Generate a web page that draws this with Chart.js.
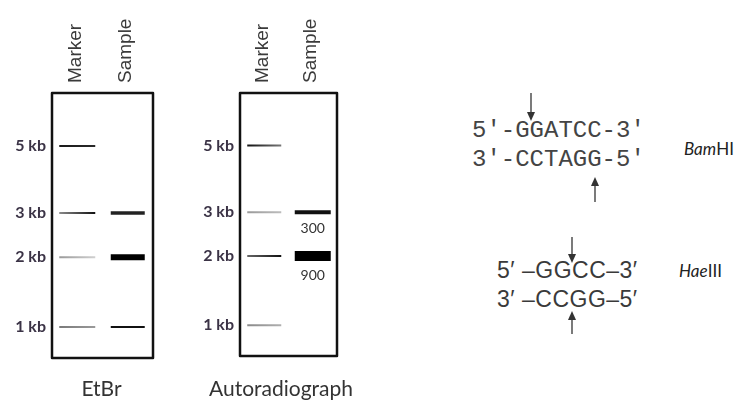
<!DOCTYPE html>
<html><head><meta charset="utf-8">
<script src="https://cdn.jsdelivr.net/npm/chart.js@4.4.1/dist/chart.umd.min.js"></script>
<style>
html,body{margin:0;padding:0;background:#fff;width:735px;height:401px;overflow:hidden;position:relative;}
canvas{position:absolute;top:0;}
.t{position:absolute;white-space:nowrap;color:#333;}
.seq{font-family:"Liberation Mono","DejaVu Sans Mono",monospace;font-size:24px;line-height:28px;color:#444;}
.seq2{font-family:"Liberation Sans",Arial,sans-serif;font-size:23px;line-height:28px;color:#3a3a3a;letter-spacing:0.5px;}
.enz{font-family:Lato,"Open Sans",sans-serif;font-size:17px;line-height:20px;color:#222;}
.cap{font-family:Lato,"Open Sans",sans-serif;font-size:21px;line-height:24px;color:#333;text-align:center;}
svg{position:absolute;left:0;top:0;}
</style></head><body>
<canvas id="g1" width="180" height="401" style="left:0"></canvas>
<canvas id="g2" width="180" height="401" style="left:185px"></canvas>

<div class="t cap" style="left:51px;top:376px;width:101px;">EtBr</div>
<div class="t cap" style="left:200px;top:376px;width:162px;">Autoradiograph</div>

<div class="t seq" style="left:472px;top:117px;">5′-GGATCC-3′</div>
<div class="t seq" style="left:472px;top:146px;">3′-CCTAGG-5′</div>
<div class="t enz" style="left:684px;top:139px;"><i>Bam</i>HI</div>

<div class="t seq2" style="left:497px;top:256px;">5′ –GGCC–3′</div>
<div class="t seq2" style="left:497px;top:285px;">3′ –CCGG–5′</div>
<div class="t enz" style="left:679px;top:261px;"><i>Hae</i>III</div>

<svg width="735" height="401" viewBox="0 0 735 401">
  <g stroke="#333" stroke-width="1.3" fill="#333">
    <line x1="531" y1="93" x2="531" y2="114"/><polygon points="527,112 535,112 531,121" stroke="none"/>
    <line x1="595" y1="184" x2="595" y2="202"/><polygon points="591,186 599,186 595,177" stroke="none"/>
    <line x1="572" y1="237" x2="572" y2="256"/><polygon points="568,254 576,254 572,263" stroke="none"/>
    <line x1="572" y1="318" x2="572" y2="334"/><polygon points="568,320 576,320 572,311" stroke="none"/>
  </g>
</svg>

<script>
// ---- data ----
const lanes = ["Marker", "Sample"];
const markerSizes = ["5 kb", "3 kb", "2 kb", "1 kb"];
const markerMigration = [20, 45.3, 62, 88.3];           // % of gel length from the well
const etbrSampleSizes = ["3 kb", "2 kb", "1 kb"];
const autoradSampleSizes = ["3 kb", "2 kb"];
const autoradSampleLabels = ["300", "900"];

// ---- band styles (appearance only) ----
const etbrMarkerStyle = [
  {r:18, w:2,   c:['#1a1a1a','#2a2a2a']},
  {r:18, w:2,   c:['#8a8a8a','#111111']},
  {r:18, w:2,   c:['#9a9a9a','#d0d0d0']},
  {r:18, w:2,   c:['#7a7a7a','#9a9a9a']}
];
const etbrSampleStyle = [
  {r:17, w:3.5, c:['#222','#222']},
  {r:17, w:6,   c:['#000','#000']},
  {r:17, w:2,   c:['#111','#111']}
];
const autoMarkerStyle = [
  {r:17, w:2,   c:['#111','#777']},
  {r:17, w:2,   c:['#9a9a9a','#bcbcbc']},
  {r:17, w:2,   c:['#666','#111']},
  {r:17, w:2,   c:['#8a8a8a','#b0b0b0']}
];
const autoSampleStyle = [
  {r:18, w:4,   c:['#111','#111']},
  {r:18, w:10,  c:['#000','#000']}
];

function grad(ctx, st) {
  const chart = ctx.chart;
  const xs = chart.scales && chart.scales.x;
  if (!xs || !ctx.parsed) return st.c[0];
  const cx = xs.getPixelForValue(ctx.parsed.x);
  if (!isFinite(cx)) return st.c[0];
  const g = chart.ctx.createLinearGradient(cx - st.r, 0, cx + st.r, 0);
  g.addColorStop(0, st.c[0]); g.addColorStop(1, st.c[1]);
  return g;
}

function bandDataset(lane, sizes, styles) {
  return {
    data: sizes.map(s => ({x: lane, y: markerMigration[markerSizes.indexOf(s)]})),
    showLine: false,
    pointStyle: 'line',
    pointRadius: ctx => styles[ctx.dataIndex].r,
    pointBorderWidth: ctx => styles[ctx.dataIndex].w,
    pointBorderColor: ctx => grad(ctx, styles[ctx.dataIndex]),
    pointBackgroundColor: 'rgba(0,0,0,0)'
  };
}

const boxPlugin = {
  id: 'gelBox',
  afterDraw(chart) {
    const a = chart.chartArea, c = chart.ctx;
    c.save();
    c.lineWidth = 2.5; c.strokeStyle = '#111'; c.lineJoin = 'round';
    c.strokeRect(a.left, a.top, a.right - a.left, a.bottom - a.top);
    c.restore();
  }
};

const bandLabelPlugin = {
  id: 'bandLabels',
  afterDatasetsDraw(chart, args, opts) {
    if (!opts || !opts.labels) return;
    const meta = chart.getDatasetMeta(opts.dataset);
    const c = chart.ctx;
    c.save();
    c.font = '14px Lato, "Open Sans", sans-serif';
    c.fillStyle = '#333'; c.textAlign = 'center'; c.textBaseline = 'middle';
    meta.data.forEach((pt, i) => {
      const w = opts.styles[i].w;
      c.fillText(opts.labels[i], pt.x, pt.y + w / 2 + 14);
    });
    c.restore();
  }
};

function gelConfig(datasets, yWidth, pad, extra) {
  return {
    type: 'line',
    data: { labels: lanes, datasets },
    plugins: [boxPlugin, bandLabelPlugin],
    options: {
      responsive: false, animation: false, events: [],
      layout: { padding: pad },
      plugins: { legend: {display:false}, tooltip: {enabled:false}, bandLabels: extra || {} },
      scales: {
        x: {
          type: 'category', labels: lanes, position: 'top', offset: true,
          grid: {display:false, drawTicks:false}, border: {display:false},
          afterFit: s => { s.height = 93; },
          ticks: { minRotation: 90, maxRotation: 90, padding: 10, labelOffset: 21, autoSkip: false,
                   color: '#3a3a3a', font: {family: '"Liberation Sans", Arial, sans-serif', size: 19} }
        },
        y: {
          type: 'linear', reverse: true, min: 0, max: 100,
          grid: {display:false, drawTicks:false}, border: {display:false},
          afterBuildTicks: s => { s.ticks = markerMigration.map(v => ({value: v})); },
          afterFit: s => { s.width = yWidth; },
          ticks: { padding: 6, autoSkip: false, color: '#3b3346',
                   font: {family: 'Lato, "Open Sans", sans-serif', size: 16, weight: 'bold'},
                   callback: (v, i) => markerSizes[i] }
        }
      }
    }
  };
}

new Chart(document.getElementById('g1'), gelConfig([
  bandDataset("Marker", markerSizes, etbrMarkerStyle),
  bandDataset("Sample", etbrSampleSizes, etbrSampleStyle)
], 52, {left:0, top:0, right:27, bottom:43}));

new Chart(document.getElementById('g2'), gelConfig([
  bandDataset("Marker", markerSizes, autoMarkerStyle),
  bandDataset("Sample", autoradSampleSizes, autoSampleStyle)
], 55, {left:0, top:0, right:23, bottom:45},
  {dataset: 1, labels: autoradSampleLabels, styles: autoSampleStyle}));
</script>
</body></html>
